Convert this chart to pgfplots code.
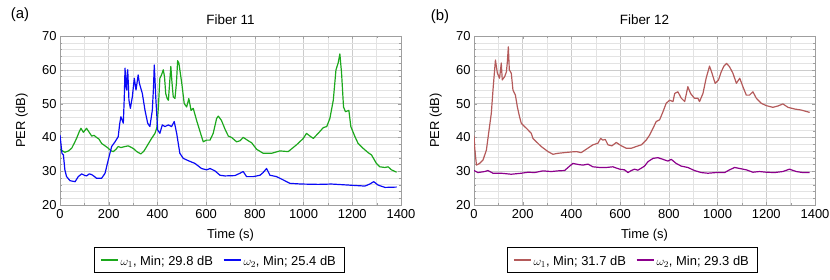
\documentclass[border=0pt]{standalone}
\usepackage{fontspec}
\setmainfont{Liberation Sans}
\usepackage{pgfplots}
\pgfplotsset{compat=1.18}
\definecolor{cgreen}{RGB}{28,168,28}
\definecolor{cblue}{RGB}{10,10,245}
\definecolor{cred}{RGB}{180,90,90}
\definecolor{cpurple}{RGB}{140,0,140}
\newcommand{\fsz}{\fontsize{13}{15}\selectfont}
\newcommand{\lst}{\rule[-5.5pt]{0pt}{19pt}}
\pgfplotsset{
  myax/.style={
    scale only axis, width=341bp, height=169bp,
    anchor=south west,
    xmin=0, xmax=1400, ymin=20, ymax=70,
    xtick={0,200,...,1400}, ytick={20,30,...,70},
    minor x tick num=1, minor y tick num=4,
    grid=both,
    major grid style={gray!40, line width=0.5pt},
    minor grid style={gray!22, line width=0.5pt},
    axis line style={gray!75},
    tick style={gray!75},
    tick align=inside,
    major tick length=3bp, minor tick length=1.6bp,
    tick label style={font=\fsz},
    xticklabel style={yshift=-1bp},
    label style={font=\fsz},
    /pgf/number format/assume math mode=true,
    /pgf/number format/1000 sep={},
    xlabel={Time (s)}, ylabel={PER (dB)},
    xlabel style={at={(axis description cs:0.5,-0.180)}, anchor=center},
    ylabel style={at={(axis description cs:-0.112,0.5)}, anchor=center},
    title style={font=\fontsize{13.5}{15}\selectfont, at={(axis description cs:0.5,1.062)}, anchor=center},
    legend columns=2,
    legend style={anchor=north, draw=black, line width=0.6pt, inner xsep=6pt, inner ysep=3pt,
      font=\fsz,
      /tikz/every even column/.append style={column sep=8pt}},
    legend image code/.code={\draw[#1, line width=1.7pt] (0bp,0bp) -- (17bp,0bp);},
    every axis plot/.append style={line width=1.2pt, line join=round},
  }
}
\begin{document}
\begin{tikzpicture}
\path[use as bounding box] (0,0) rectangle (830bp,280bp);
\begin{axis}[myax, at={(60bp,75bp)}, title={Fiber 11},
  legend style={at={(axis description cs:0.466,-0.2485)}}]
\addplot[cgreen] coordinates {
(0,36.5) (10,36) (20,35.6) (35,36) (48,36.8) (60,38.5) (68,39.7) (78,41.5) (86,42.7) (96,41.5)
(109,42.7) (120,41.5) (130,40.4) (140,40.6) (150,40.0) (160,39.5) (171,38.2) (185,37.5) (198,36.8)
(210,36.0) (219,35.8) (230,36.5) (239,37.3) (250,37.0) (267,37.3) (280,37.5) (294,37.0) (305,36.5)
(315,35.8) (332,35.1) (345,36.0) (356,37.3) (366,38.5) (376,39.7) (390,41.2) (398,43) (404,49)
(410,57.5) (417,58.5) (424,60) (429,58) (434,53) (440,51.5) (445,51) (450,56) (455,61) (460,56)
(465,52) (472,51.5) (478,56) (483,62.7) (488,62) (494,59) (500,56) (510,50) (520,49) (529,51.5)
(538,48) (547,48.6) (561,45) (575,41.7) (588,38.7) (602,39.2) (616,39.2) (629,41.2) (643,45.6)
(650,46.3) (663,45) (677,42.5) (691,40.4) (704,40) (725,38.7) (739,39) (752,40) (773,39) (787,38.4)
(807,36.5) (834,35.3) (869,35.3) (903,36) (937,35.8) (971,37.8) (999,39.7) (1012,41.2) (1026,40.4)
(1040,39.7) (1060,41.2) (1081,42.9) (1095,43.2) (1108,45.6) (1122,51) (1133,60) (1142,62) (1149,64.7)
(1156,59) (1164,49) (1172,47.6) (1186,48) (1194,43.2) (1211,40.2) (1224,38.2) (1244,36.8) (1265,35.5)
(1279,34.8) (1299,32.3) (1313,31.3) (1334,31.1) (1347,31.3) (1361,30.4) (1382,29.7)
};
\addlegendentry{\lst$\omega_1$, Min; 29.8 dB}
\addplot[cblue] coordinates {
(0,40.7) (4,38) (8,35.3) (14,34.8) (20,30.4) (27,28.4) (41,27.2) (62,26.9) (75,28.4) (89,29.2)
(100,28.8) (109,28.6) (120,29.2) (130,29.0) (140,28.5) (150,27.9) (171,27.9) (185,29.4) (198,33.3)
(212,37.3) (226,38.7) (239,40.2) (245,44) (250,46.1) (260,44.2) (264,52) (267,60.5) (271,55) (274,54)
(276,59) (278,60) (281,55) (283,51) (289,48.6) (297,52) (305,57.5) (312,54) (321,58.5) (326,56)
(330,55) (338,53) (349,48) (360,44.2) (369,43.2) (379,48) (384,55) (387,61.4) (390,57) (393,52)
(401,42.2) (410,41.2) (420,43.7) (431,43.2) (445,43.7) (458,43.2) (469,44.7) (479,41.2) (492,35.3)
(506,33.8) (527,33.1) (554,32.3) (581,30.8) (602,30.4) (616,30.8) (636,30.1) (657,28.8) (677,28.6)
(718,28.7) (739,29.4) (752,29.9) (766,28.4) (794,28.4) (821,28.8) (834,29.6) (848,30.8) (862,28.8)
(889,28.4) (917,27.4) (944,26.4) (992,26.2) (1060,26.1) (1115,26.2) (1183,25.9) (1252,25.6)
(1272,26.2) (1288,26.9) (1306,25.9) (1334,25.2) (1382,25.3)
};
\addlegendentry{\lst$\omega_2$, Min; 25.4 dB}
\end{axis}
\begin{axis}[myax, at={(474bp,75bp)}, title={Fiber 12},
  legend style={at={(axis description cs:0.463,-0.2485)}}]
\addplot[cred] coordinates {
(0,40.5) (3,36.8) (10,31.8) (23,32.3) (37,33.3) (51,36.3) (60,41.2) (71,47.1) (79,55) (88,62.9)
(96,59) (105,57.5) (112,62) (116,57) (126,58) (133,59.4) (137,62.4) (141,66.8) (145,60) (153,59)
(160,54) (170,52.5) (178,49) (187,46.1) (194,44.2) (208,43.2) (222,42.2) (235,41.2) (242,39.7)
(256,38.7) (276,37.3) (304,35.8) (324,35) (345,35.3) (372,35.5) (400,35.7) (420,35.8) (440,35.5)
(461,36.5) (488,37.8) (509,38.3) (520,39.7) (529,39.2) (539,39.4) (550,37.8) (566,37.5) (584,38.5)
(605,37.5) (625,36.8) (646,36.8) (666,37.3) (687,37.8) (707,39.2) (721,40.7) (735,42.7) (748,44.7)
(762,45.2) (776,47.6) (789,50.1) (803,51) (817,50.6) (824,53) (837,53.5) (851,51.6) (865,50.6)
(878,55) (889,53) (905,51.6) (919,51.6) (926,50.6) (940,53) (953,57.5) (967,61.1) (977,59) (990,56)
(1004,57) (1015,59.4) (1026,61.1) (1037,61.9) (1049,60.9) (1063,59) (1077,56) (1091,57.5) (1104,55)
(1118,52.5) (1131,52.5) (1145,53.5) (1159,51.6) (1179,50.1) (1200,49.4) (1227,48.9) (1248,49.3)
(1268,49.9) (1289,48.9) (1316,48.4) (1343,48.1) (1378,47.4)
};
\addlegendentry{\lst$\omega_1$, Min; 31.7 dB}
\addplot[cpurple] coordinates {
(0,30.2) (16,29.6) (44,29.9) (57,30.2) (78,29.4) (112,29.4) (153,29.1) (194,29.4) (222,29.7)
(249,29.6) (283,30.1) (317,29.9) (345,30.1) (372,30.2) (386,31.1) (406,32.3) (427,32) (447,31.8)
(468,32.1) (488,31.3) (516,31.1) (543,31.1) (570,31.3) (598,30.6) (618,30.4) (632,29.6) (646,30.2)
(659,30.6) (673,30.3) (689,31) (700,31.5) (714,32.8) (735,33.8) (755,34) (776,33.5) (796,33)
(810,33.5) (830,32.3) (851,31.5) (878,31.1) (905,30.2) (933,29.6) (960,29.4) (994,29.6) (1029,29.6)
(1049,30.4) (1070,31.1) (1091,30.8) (1118,30.4) (1145,29.7) (1172,29.9) (1200,29.7) (1234,29.6)
(1268,29.9) (1295,30.6) (1323,29.9) (1350,29.6) (1378,29.6)
};
\addlegendentry{\lst$\omega_2$, Min; 29.3 dB}
\end{axis}
\node[font=\fontsize{15}{17}\selectfont] at (20bp,265bp) {(a)};
\node[font=\fontsize{15}{17}\selectfont] at (440bp,263bp) {(b)};
\end{tikzpicture}
\end{document}
